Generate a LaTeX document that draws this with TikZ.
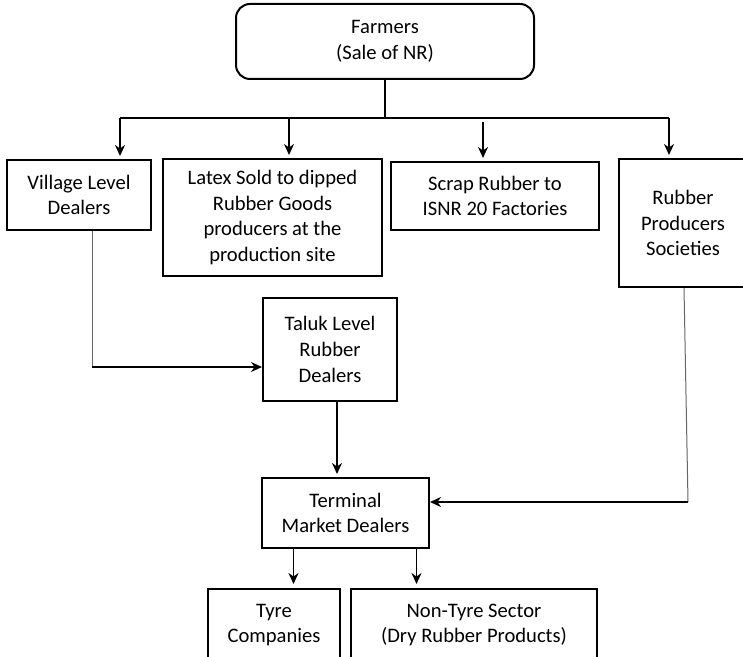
\documentclass[tikz,border=0pt]{standalone}
\usepackage{fontspec}
\setmainfont{Carlito}
\usetikzlibrary{arrows.meta, positioning}

\begin{document}
\begin{tikzpicture}[x=0.5pt, y=-0.5pt,
            farmerbox/.style={ rectangle, draw, line width=1pt, rounded corners=7pt, inner sep=0pt, align=center, font=\fontsize{10.3}{12.9}\selectfont },
            dealerbox/.style={ rectangle, draw, line width=1pt, inner sep=0pt, align=center, font=\fontsize{10.3}{12.9}\selectfont },
            arrow/.style={ -{Stealth[length=5.5pt, width=5pt]}, line width=0.9pt },
            thinline/.style={ line width=0.5pt, black!60 }
        ]
            \useasboundingbox (0,0) rectangle (743,657);

            % Main node
            \node (farmers) [farmerbox, minimum width=149pt, minimum height=37.5pt] at (385,41.5) {Farmers\\(Sale of NR)};

            % First level nodes
            \node (village) [dealerbox, minimum width=72pt, minimum height=35pt] at (79,195) {Village Level\\Dealers};
            \node (latex) [dealerbox, minimum width=109.5pt, minimum height=58.5pt] at (272.5,217.5) {Latex Sold to dipped\\Rubber Goods\\producers at the\\production site};
            \node (scrap) [dealerbox, minimum width=104pt, minimum height=34pt] at (495,196) {Scrap Rubber to\\ISNR 20 Factories};
            \node (societies) [dealerbox, minimum width=64pt, minimum height=64pt] at (683,223) {Rubber\\Producers\\Societies};

            % Dealer nodes
            \node (taluk) [dealerbox, minimum width=67pt, minimum height=51.5pt] at (330,349.5) {Taluk Level\\Rubber\\Dealers};
            \node (terminal) [dealerbox, minimum width=83.5pt, minimum height=35pt] at (345.5,513) {Terminal\\Market Dealers};

            % Buyer nodes
            \node (tyre) [dealerbox, minimum width=66pt, minimum height=36pt] at (274,625) {Tyre\\Companies};
            \node (nontyre) [dealerbox, minimum width=123pt, minimum height=36pt] at (474,625) {Non-Tyre Sector\\(Dry Rubber Products)};

            % Branch points
            \coordinate (split) at (385,118);
            \coordinate (branchA) at (120,118);
            \coordinate (branchB) at (289,118);
            \coordinate (branchC) at (483,122);
            \coordinate (branchD) at (669,118);
            \coordinate (vturn) at (92,367);
            \coordinate (rturn) at (688,502);

            % Arrows
            \draw[line width=0.9pt] (farmers.south) -- (split);
            \draw[line width=0.9pt] (branchA) -- (branchD);
            \draw[arrow] (branchA) -- ([yshift=1.5pt]branchA |- village.north);
            \draw[arrow] (branchB) -- ([yshift=1.5pt]branchB |- latex.north);
            \draw[arrow] (branchC) -- ([yshift=1.5pt]branchC |- scrap.north);
            \draw[arrow] (branchD) -- ([yshift=1.5pt]branchD |- societies.north);

            \draw[thinline] (village.south -| vturn) -- (vturn);
            \draw[arrow] (vturn) -- (vturn -| taluk.west);
            \draw[arrow] ([xshift=3.5pt]taluk.south) -- ([xshift=3.5pt,yshift=1.5pt]taluk.south |- terminal.north);
            \draw[thinline] ([xshift=0.5pt]societies.south) -- (rturn);
            \draw[arrow] (rturn) -- (rturn -| terminal.east);

            \draw[arrow] ([xshift=-26pt]terminal.south) -- ([xshift=-26pt,yshift=2pt]terminal.south |- tyre.north);
            \draw[arrow] ([xshift=35.5pt]terminal.south) -- ([xshift=35.5pt,yshift=2pt]terminal.south |- nontyre.north);

        \end{tikzpicture}
\end{document}
